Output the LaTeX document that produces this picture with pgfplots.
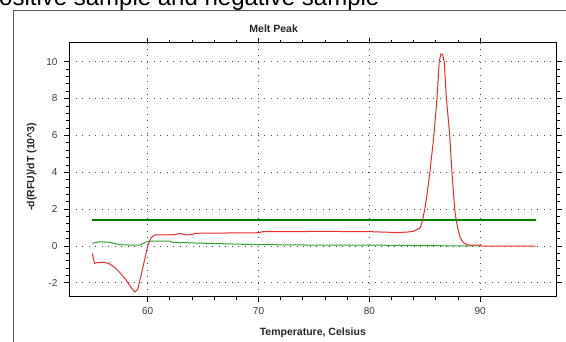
\documentclass[border=0pt]{standalone}
\usepackage{pgfplots}
\pgfplotsset{compat=1.18}
\usepackage{fontspec}
\setmainfont{Liberation Sans}
\definecolor{redline}{RGB}{235,45,45}
\definecolor{thickgreen}{RGB}{0,128,0}
\definecolor{thingreen}{RGB}{50,160,50}
\definecolor{framegray}{RGB}{90,90,90}
\definecolor{ticktext}{RGB}{60,60,60}
\begin{document}
\begin{tikzpicture}
\useasboundingbox (0pt,0pt) rectangle (566pt,342pt);
\clip (0pt,0pt) rectangle (566pt,342pt);
\fill[white] (0pt,0pt) rectangle (566pt,342pt);
\node[anchor=base west, inner sep=0pt, font=\fontsize{24}{28}\selectfont] at (-17pt,336pt) {Positive sample and negative sample};
\draw[framegray, line width=1.3pt] (13.3pt,-5pt) -- (13.3pt,331.3pt) -- (580pt,331.3pt);
\node[font=\fontsize{10.5}{12}\selectfont\bfseries, text=black!85] at (273.7pt,313pt) {Melt Peak};
\begin{axis}[
  at={(69pt,45.3pt)}, anchor=south west,
  scale only axis, width=487.7pt, height=254pt,
  xmin=52.9, xmax=96.9, ymin=-2.75, ymax=11.03,
  xtick={60,70,80,90}, ytick={-2,0,2,4,6,8,10},
  minor x tick num=4, minor y tick num=4,
  tick align=outside, tick pos=both,
  major tick length=5pt, minor tick length=3pt,
  every tick/.style={black, line width=0.8pt},
  axis line style={black, line width=1pt},
  grid=major,
  major grid style={gray!60!black, line width=0.9pt, dash pattern=on 0.9pt off 5.6pt},
  /pgf/number format/assume math mode=true,
  ticklabel style={font=\fontsize{10}{12}\selectfont, text=ticktext},
  xticklabel style={yshift=-2pt},
  yticklabel style={xshift=-3pt},
  xlabel={Temperature, Celsius},
  ylabel={-d(RFU)/dT (10\textasciicircum 3)},
  label style={font=\fontsize{10.5}{12}\selectfont\bfseries, text=black!85},
  xlabel style={at={(axis description cs:0.5,-0.143)}, anchor=center},
  ylabel style={at={(axis description cs:-0.0765,0.512)}, anchor=center},
  clip=true,
]
\addplot[thickgreen, line width=2.6pt] coordinates {(55,1.41) (95,1.41)};
\addplot[thingreen, line width=1pt] coordinates {
(55.0,0.15) (55.7,0.23) (56.6,0.2) (57.5,0.07) (58.5,0.05) (59.3,0.05)
(59.9,0.23) (60.3,0.27) (62.0,0.27) (62.2,0.2) (65.0,0.15) (69.5,0.08)
(75,0.05) (80,0.05) (85,0.02) (90,0.0)};
\addplot[redline, line width=1pt] coordinates {
(55.0,-0.4) (55.2,-0.94) (55.5,-0.9) (56.0,-0.88) (56.5,-0.95) (57.0,-1.15)
(57.5,-1.45) (58.0,-1.8) (58.5,-2.25) (58.85,-2.5) (59.1,-2.35) (59.4,-1.6)
(59.7,-0.8) (60.0,0.0) (60.3,0.45) (60.66,0.6) (61.5,0.6) (62.5,0.62)
(62.9,0.69) (63.4,0.6) (64.0,0.62) (64.3,0.69) (66,0.7) (68,0.71)
(70,0.72) (70.4,0.78) (73.75,0.78) (76,0.8) (78,0.78) (80,0.78)
(82,0.74) (82.5,0.73) (83.5,0.76) (84.0,0.8) (84.3,0.9) (84.6,1.0)
(84.8,1.41) (85.0,2.0) (85.2,2.8) (85.46,4.0) (85.82,6.0) (86.1,8.0)
(86.3,10.0) (86.45,10.42) (86.6,10.4) (86.75,10.0) (86.95,8.0) (87.25,6.0)
(87.45,4.0) (87.7,2.0) (87.83,1.41) (88.0,0.9) (88.2,0.45) (88.45,0.2)
(88.8,0.08) (89.0,0.05) (90.0,0.05) (90.1,0.0) (95.0,0.0)};
\end{axis}
\end{tikzpicture}
\end{document}
